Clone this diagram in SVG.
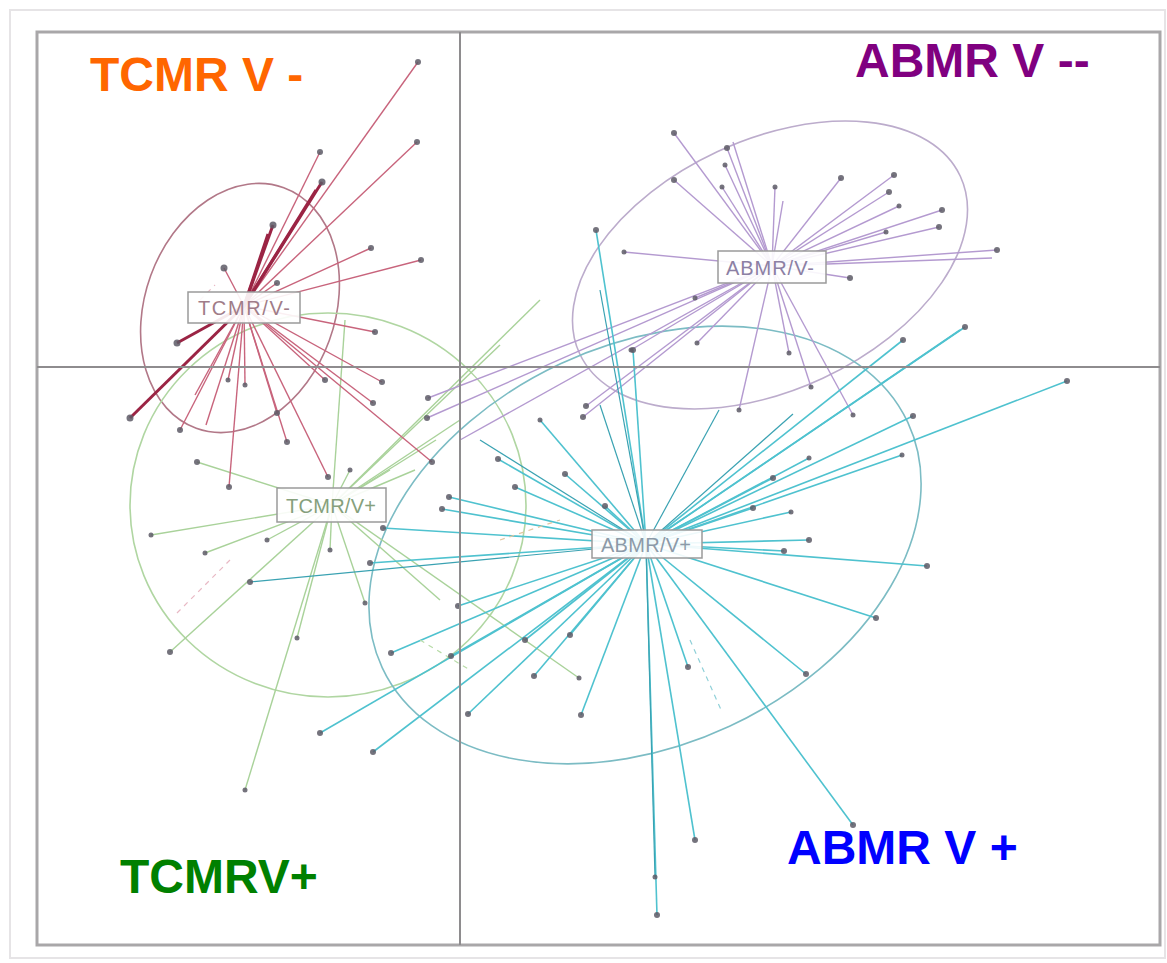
<svg xmlns="http://www.w3.org/2000/svg" width="1167" height="963" viewBox="0 0 1167 963">
<style>
.bg{fill:#fff}
.outer{fill:none;stroke:#e6e4e6;stroke-width:2}
.frame{fill:none;stroke:#a9a7a9;stroke-width:3}
.axis{stroke:#8e8c8e;stroke-width:2}
.ell{fill:none;stroke-width:1.6}
.r line{stroke:#c8647c;stroke-width:1.4}
.rt line{stroke:#9b2444;stroke-width:3}
.g line{stroke:#a9d29a;stroke-width:1.4}
.p line{stroke:#b49ad0;stroke-width:1.4}
.c line{stroke:#4fc2cf;stroke-width:1.6}
.ct line{stroke:#3aa2b2;stroke-width:1.2}
.d line{stroke-dasharray:5 5;stroke-width:1.2}
.pts circle{fill:#5d5a66;opacity:0.85}
.box{fill:#fff;fill-opacity:0.9;stroke:#9a9a9a;stroke-width:1.5}
.bl{font-family:"Liberation Sans",Arial,sans-serif;font-size:20px;text-anchor:middle}
.title{font-family:"Liberation Sans",Arial,sans-serif;font-weight:bold;font-size:48px}
</style>
<rect class="bg" x="0" y="0" width="1167" height="963"/>
<rect class="outer" x="10" y="10" width="1155" height="948"/>

<g id="ellipses">
<ellipse class="ell" cx="240" cy="308" rx="95" ry="128" transform="rotate(20 240 308)" stroke="#b27888"/>
<ellipse class="ell" cx="328" cy="505" rx="198" ry="192" stroke="#b0d6a2"/>
<ellipse class="ell" cx="770" cy="265" rx="210" ry="125" transform="rotate(-25 770 265)" stroke="#bcaccc"/>
<ellipse class="ell" cx="645" cy="545" rx="290" ry="200" transform="rotate(-25 645 545)" stroke="#7cbcc4"/>
</g>

<g id="connectors">
<g class="g">
<line x1="332" y1="505" x2="197" y2="462"/><line x1="332" y1="505" x2="151" y2="535"/>
<line x1="332" y1="505" x2="205" y2="553"/><line x1="332" y1="505" x2="267" y2="540"/>
<line x1="332" y1="505" x2="170" y2="652"/><line x1="332" y1="505" x2="297" y2="638"/>
<line x1="332" y1="505" x2="245" y2="790"/><line x1="332" y1="505" x2="330" y2="550"/>
<line x1="332" y1="505" x2="365" y2="603"/><line x1="332" y1="505" x2="350" y2="470"/>
<line x1="332" y1="505" x2="579" y2="678"/><line x1="332" y1="505" x2="436" y2="440"/>
<line x1="332" y1="505" x2="460" y2="420"/><line x1="332" y1="505" x2="500" y2="345"/>
<line x1="332" y1="505" x2="540" y2="300"/><line x1="332" y1="505" x2="415" y2="470"/>
<line x1="332" y1="505" x2="440" y2="600"/><line x1="332" y1="505" x2="390" y2="470"/>
<line x1="332" y1="505" x2="345" y2="320"/>
</g>
<g class="r">
<line x1="244" y1="306" x2="418" y2="62"/><line x1="244" y1="306" x2="417" y2="142"/>
<line x1="244" y1="306" x2="320" y2="152"/><line x1="244" y1="306" x2="371" y2="248"/>
<line x1="244" y1="306" x2="421" y2="260"/><line x1="244" y1="306" x2="224" y2="268"/>
<line x1="244" y1="306" x2="277" y2="283"/><line x1="244" y1="306" x2="375" y2="332"/>
<line x1="244" y1="306" x2="180" y2="430"/><line x1="244" y1="306" x2="229" y2="487"/>
<line x1="244" y1="306" x2="228" y2="380"/><line x1="244" y1="306" x2="245" y2="385"/>
<line x1="244" y1="306" x2="277" y2="413"/><line x1="244" y1="306" x2="287" y2="442"/>
<line x1="244" y1="306" x2="328" y2="477"/><line x1="244" y1="306" x2="325" y2="380"/>
<line x1="244" y1="306" x2="382" y2="382"/><line x1="244" y1="306" x2="373" y2="403"/>
<line x1="244" y1="306" x2="432" y2="462"/><line x1="244" y1="306" x2="195" y2="395"/>
<line x1="244" y1="306" x2="206" y2="425"/>
</g>
<g class="rt">
<line x1="244" y1="306" x2="130" y2="418"/><line x1="244" y1="306" x2="177" y2="343"/>
<line x1="244" y1="306" x2="273" y2="225"/><line x1="244" y1="306" x2="268" y2="234"/>
<line x1="244" y1="306" x2="322" y2="182"/><line x1="244" y1="306" x2="316" y2="190"/>
</g>
<g class="p">
<line x1="772" y1="266" x2="674" y2="133"/><line x1="772" y1="266" x2="727" y2="148"/>
<line x1="772" y1="266" x2="733" y2="142"/><line x1="772" y1="266" x2="725" y2="165"/>
<line x1="772" y1="266" x2="722" y2="187"/><line x1="772" y1="266" x2="775" y2="187"/>
<line x1="772" y1="266" x2="783" y2="201"/><line x1="772" y1="266" x2="841" y2="178"/>
<line x1="772" y1="266" x2="894" y2="175"/><line x1="772" y1="266" x2="889" y2="192"/>
<line x1="772" y1="266" x2="899" y2="206"/><line x1="772" y1="266" x2="942" y2="210"/>
<line x1="772" y1="266" x2="939" y2="227"/><line x1="772" y1="266" x2="886" y2="232"/>
<line x1="772" y1="266" x2="997" y2="250"/><line x1="772" y1="266" x2="992" y2="258"/>
<line x1="772" y1="266" x2="624" y2="252"/><line x1="772" y1="266" x2="674" y2="180"/>
<line x1="772" y1="266" x2="850" y2="278"/><line x1="772" y1="266" x2="428" y2="398"/>
<line x1="772" y1="266" x2="427" y2="418"/><line x1="772" y1="266" x2="631" y2="350"/>
<line x1="772" y1="266" x2="695" y2="298"/><line x1="772" y1="266" x2="697" y2="343"/>
<line x1="772" y1="266" x2="789" y2="353"/><line x1="772" y1="266" x2="811" y2="387"/>
<line x1="772" y1="266" x2="853" y2="415"/><line x1="772" y1="266" x2="739" y2="410"/>
<line x1="772" y1="266" x2="586" y2="406"/><line x1="772" y1="266" x2="583" y2="417"/>
<line x1="772" y1="266" x2="460" y2="440"/>
</g>
<g class="c">
<line x1="646" y1="544" x2="1067" y2="381"/><line x1="646" y1="544" x2="913" y2="416"/>
<line x1="646" y1="544" x2="902" y2="455"/><line x1="646" y1="544" x2="809" y2="458"/>
<line x1="646" y1="544" x2="773" y2="478"/><line x1="646" y1="544" x2="753" y2="508"/>
<line x1="646" y1="544" x2="791" y2="512"/><line x1="646" y1="544" x2="809" y2="540"/>
<line x1="646" y1="544" x2="784" y2="551"/><line x1="646" y1="544" x2="927" y2="566"/>
<line x1="646" y1="544" x2="876" y2="618"/><line x1="646" y1="544" x2="806" y2="674"/>
<line x1="646" y1="544" x2="853" y2="825"/><line x1="646" y1="544" x2="695" y2="840"/>
<line x1="646" y1="544" x2="657" y2="915"/><line x1="646" y1="544" x2="688" y2="667"/>
<line x1="646" y1="544" x2="581" y2="715"/><line x1="646" y1="544" x2="468" y2="714"/>
<line x1="646" y1="544" x2="534" y2="676"/><line x1="646" y1="544" x2="570" y2="635"/>
<line x1="646" y1="544" x2="525" y2="640"/><line x1="646" y1="544" x2="458" y2="606"/>
<line x1="646" y1="544" x2="451" y2="656"/><line x1="646" y1="544" x2="391" y2="653"/>
<line x1="646" y1="544" x2="320" y2="733"/><line x1="646" y1="544" x2="373" y2="752"/>
<line x1="646" y1="544" x2="498" y2="459"/><line x1="646" y1="544" x2="515" y2="487"/>
<line x1="646" y1="544" x2="565" y2="474"/><line x1="646" y1="544" x2="605" y2="506"/>
<line x1="646" y1="544" x2="442" y2="509"/><line x1="646" y1="544" x2="449" y2="497"/>
<line x1="646" y1="544" x2="383" y2="528"/><line x1="646" y1="544" x2="370" y2="563"/>
<line x1="646" y1="544" x2="596" y2="230"/><line x1="646" y1="544" x2="965" y2="327"/>
<line x1="646" y1="544" x2="903" y2="340"/><line x1="646" y1="544" x2="633" y2="350"/>
<line x1="646" y1="544" x2="960" y2="330"/><line x1="646" y1="544" x2="540" y2="420"/>
</g>
<g class="ct">
<line x1="646" y1="544" x2="250" y2="582"/><line x1="646" y1="544" x2="600" y2="405"/>
<line x1="646" y1="544" x2="793" y2="414"/><line x1="646" y1="544" x2="719" y2="410"/>
<line x1="646" y1="544" x2="480" y2="440"/><line x1="646" y1="544" x2="600" y2="290"/>
<line x1="646" y1="544" x2="655" y2="877"/>
</g>
<g class="d">
<line x1="230" y1="560" x2="175" y2="615" stroke="#e8b8c4"/>
<line x1="690" y1="640" x2="722" y2="712" stroke="#8fd0d8"/>
<line x1="500" y1="540" x2="560" y2="520" stroke="#e0c6a0"/>
<line x1="420" y1="640" x2="470" y2="670" stroke="#b8dca8"/>
<line x1="200" y1="300" x2="215" y2="285" stroke="#e8b8c4"/>
</g>
</g>

<g id="points" class="pts">
<circle cx="418" cy="62" r="3"/><circle cx="417" cy="142" r="3"/><circle cx="320" cy="152" r="3"/>
<circle cx="322" cy="182" r="3.5"/><circle cx="273" cy="225" r="3.5"/><circle cx="371" cy="248" r="3"/>
<circle cx="421" cy="260" r="3"/><circle cx="224" cy="268" r="3.5"/><circle cx="277" cy="283" r="3"/>
<circle cx="375" cy="332" r="3"/><circle cx="177" cy="343" r="3.5"/><circle cx="130" cy="418" r="3.5"/>
<circle cx="180" cy="430" r="3"/><circle cx="229" cy="487" r="3"/><circle cx="228" cy="380" r="2.5"/>
<circle cx="245" cy="385" r="2.5"/><circle cx="277" cy="413" r="3"/><circle cx="287" cy="442" r="3"/>
<circle cx="328" cy="477" r="3"/><circle cx="325" cy="380" r="3"/><circle cx="382" cy="382" r="3"/>
<circle cx="373" cy="403" r="3"/><circle cx="432" cy="462" r="3"/>
<circle cx="197" cy="462" r="3"/><circle cx="151" cy="535" r="2.5"/><circle cx="205" cy="553" r="2.5"/>
<circle cx="267" cy="540" r="2.5"/><circle cx="170" cy="652" r="3"/><circle cx="297" cy="638" r="2.5"/>
<circle cx="245" cy="790" r="2.5"/><circle cx="330" cy="550" r="2.5"/><circle cx="365" cy="603" r="2.5"/>
<circle cx="350" cy="470" r="2.5"/><circle cx="579" cy="678" r="2.5"/>
<circle cx="674" cy="133" r="3"/><circle cx="727" cy="148" r="3"/><circle cx="725" cy="165" r="2.5"/>
<circle cx="722" cy="187" r="2.5"/><circle cx="775" cy="187" r="2.5"/><circle cx="841" cy="178" r="3"/>
<circle cx="894" cy="175" r="3"/><circle cx="889" cy="192" r="3"/><circle cx="899" cy="206" r="2.5"/>
<circle cx="942" cy="210" r="3"/><circle cx="939" cy="227" r="3"/><circle cx="886" cy="232" r="2.5"/>
<circle cx="997" cy="250" r="3"/><circle cx="624" cy="252" r="2.5"/><circle cx="674" cy="180" r="3"/>
<circle cx="850" cy="278" r="3"/><circle cx="428" cy="398" r="3"/><circle cx="427" cy="418" r="3"/>
<circle cx="631" cy="350" r="2.5"/><circle cx="695" cy="298" r="2.5"/><circle cx="697" cy="343" r="2.5"/>
<circle cx="789" cy="353" r="2.5"/><circle cx="811" cy="387" r="2.5"/><circle cx="853" cy="415" r="2.5"/>
<circle cx="739" cy="410" r="2.5"/><circle cx="586" cy="406" r="3"/><circle cx="583" cy="417" r="3"/>
<circle cx="1067" cy="381" r="3"/><circle cx="913" cy="416" r="3"/><circle cx="902" cy="455" r="2.5"/>
<circle cx="809" cy="458" r="2.5"/><circle cx="773" cy="478" r="3"/><circle cx="753" cy="508" r="3"/>
<circle cx="791" cy="512" r="2.5"/><circle cx="809" cy="540" r="3"/><circle cx="784" cy="551" r="3"/>
<circle cx="927" cy="566" r="3"/><circle cx="876" cy="618" r="3"/><circle cx="806" cy="674" r="3"/>
<circle cx="853" cy="825" r="3"/><circle cx="695" cy="840" r="3"/><circle cx="657" cy="915" r="3"/>
<circle cx="655" cy="877" r="2.5"/><circle cx="688" cy="667" r="3"/><circle cx="581" cy="715" r="3"/>
<circle cx="468" cy="714" r="3"/><circle cx="534" cy="676" r="3"/><circle cx="570" cy="635" r="3"/>
<circle cx="525" cy="640" r="3"/><circle cx="458" cy="606" r="3"/><circle cx="451" cy="656" r="3"/>
<circle cx="391" cy="653" r="3"/><circle cx="320" cy="733" r="3"/><circle cx="373" cy="752" r="3"/>
<circle cx="498" cy="459" r="3"/><circle cx="515" cy="487" r="3"/><circle cx="565" cy="474" r="3"/>
<circle cx="605" cy="506" r="3"/><circle cx="442" cy="509" r="3"/><circle cx="449" cy="497" r="3"/>
<circle cx="383" cy="528" r="3"/><circle cx="370" cy="563" r="3"/><circle cx="250" cy="582" r="3"/>
<circle cx="596" cy="230" r="3"/><circle cx="965" cy="327" r="3"/><circle cx="903" cy="340" r="3"/>
<circle cx="633" cy="350" r="3"/><circle cx="540" cy="420" r="2.5"/>
</g>

<g id="axes">
<rect class="frame" x="37" y="32" width="1123" height="913"/>
<line class="axis" x1="460" y1="32" x2="460" y2="945"/>
<line class="axis" x1="37" y1="367" x2="1160" y2="367"/>
</g>

<g id="node-tcmr-vminus">
<rect class="box" x="188" y="292" width="112" height="31"/>
<text class="bl" x="244" y="315" fill="#a07c88" textLength="92">TCMR/V-</text>
</g>
<g id="node-tcmr-vplus">
<rect class="box" x="277" y="488" width="109" height="34"/>
<text class="bl" x="331" y="513" fill="#86a07c" textLength="90">TCMR/V+</text>
</g>
<g id="node-abmr-vminus">
<rect class="box" x="718" y="251" width="108" height="32"/>
<text class="bl" x="770" y="275" fill="#8c80a4" textLength="88">ABMR/V-</text>
</g>
<g id="node-abmr-vplus">
<rect class="box" x="592" y="530" width="110" height="28"/>
<text class="bl" x="646" y="552" fill="#8c9aa8" textLength="90">ABMR/V+</text>
</g>

<g id="title-tcmr-vminus"><text class="title" x="90" y="91" fill="#ff6600">TCMR V -</text></g>
<g id="title-abmr-vminus"><text class="title" x="855" y="77" fill="#800080">ABMR V --</text></g>
<g id="title-tcmr-vplus"><text class="title" x="120" y="893" fill="#008000">TCMRV+</text></g>
<g id="title-abmr-vplus"><text class="title" x="787" y="864" fill="#0000ff">ABMR V +</text></g>
</svg>
